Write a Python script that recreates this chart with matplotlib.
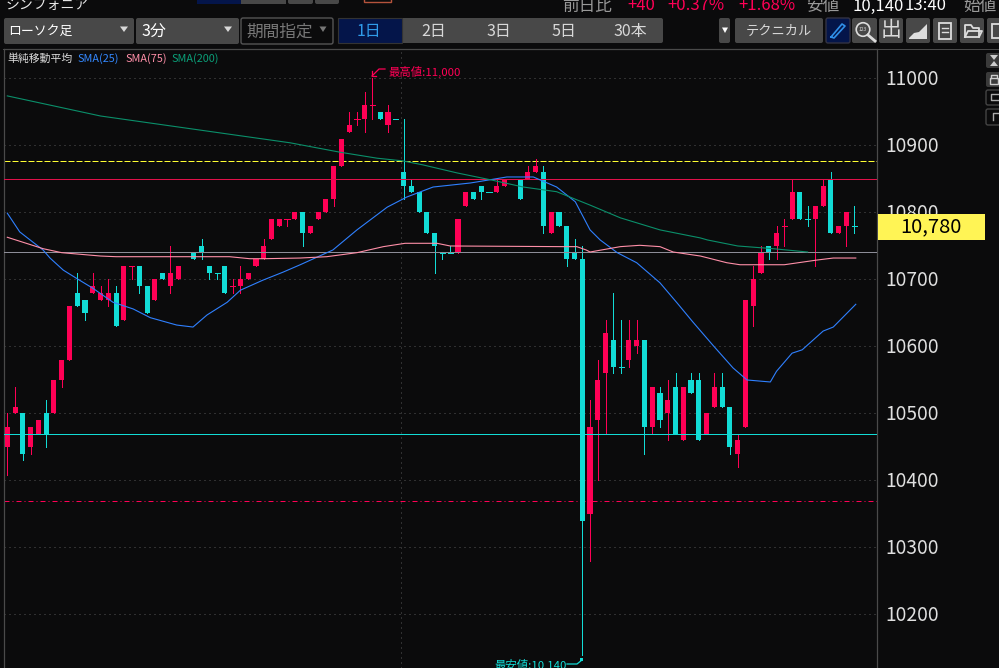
from __future__ import annotations
import matplotlib
matplotlib.use("Agg")
import matplotlib.pyplot as plt
from matplotlib.patches import FancyBboxPatch, Rectangle

plt.rcParams["font.family"] = ["Noto Sans CJK JP", "DejaVu Sans"]

UP = "#ff0055"
DOWN = "#12dcd6"
BG = "#0b0b0c"
GRID = "#565656"

# bars: index, open, close, high, low (up bars red, down bars cyan)
bar_idx = [0, 1, 2, 3, 4, 5, 6, 7, 8, 9, 10, 11, 12, 13, 14, 15, 16, 17, 18, 19, 20, 21, 22,
           24, 25, 26, 27, 28, 29, 30, 31, 32, 33, 34, 35, 36, 37, 38, 39, 40, 41, 42, 43, 44,
           45, 46, 47, 48, 49, 50, 51, 52, 53, 54, 55, 56, 57, 58, 59, 60, 61, 62, 63, 64,
           66, 67, 68, 69, 70, 71, 72, 73, 74, 75, 76, 77, 78, 79, 80, 81, 82, 83, 84, 85,
           86, 87, 88, 89, 90, 91, 92, 93, 94, 95, 96, 97, 98, 99, 100, 101, 102, 103, 104,
           105, 106, 107, 108, 109]
opens = [10450, 10500, 10500, 10450, 10470, 10500, 10500, 10550, 10580, 10680, 10670, 10680,
         10670, 10670, 10680, 10640, 10720, 10720, 10690, 10670, 10710, 10690, 10700,
         10740, 10750, 10720, 10710, 10720, 10690, 10690, 10700, 10720, 10730, 10760, 10780,
         10790, 10790, 10800, 10770, 10790, 10800, 10820, 10870, 10920,
         10940, 10940, 10960, 10950, 10930, 10940, 10860, 10840, 10830, 10800, 10770, 10740,
         10740, 10740, 10810, 10830, 10840, 10830, 10830, 10840,
         10850, 10850, 10860, 10860, 10770, 10800, 10780, 10740, 10730, 10350, 10490, 10560,
         10610, 10570, 10580, 10600, 10610, 10480, 10530, 10500,
         10540, 10460, 10550, 10550, 10470, 10510, 10540, 10510, 10440, 10480, 10660, 10710,
         10750, 10750, 10780, 10790, 10830, 10790, 10790,
         10810, 10850, 10770, 10780, 10780]
closes = [10480, 10510, 10440, 10480, 10490, 10470, 10550, 10580, 10660, 10660, 10650, 10690,
          10680, 10680, 10630, 10720, 10720, 10690, 10650, 10700, 10700, 10710, 10720,
          10730, 10740, 10710, 10710, 10680, 10690, 10700, 10710, 10730, 10750, 10790, 10790,
          10790, 10800, 10770, 10780, 10800, 10820, 10870, 10910, 10930,
          10940, 10960, 10960, 10940, 10950, 10940, 10840, 10830, 10800, 10770, 10750, 10740,
          10740, 10790, 10830, 10820, 10830, 10830, 10840, 10850,
          10820, 10860, 10870, 10780, 10800, 10780, 10730, 10730, 10340, 10480, 10550, 10620,
          10570, 10570, 10610, 10610, 10480, 10540, 10490, 10520,
          10470, 10540, 10530, 10460, 10500, 10540, 10510, 10450, 10460, 10670, 10700, 10740,
          10740, 10770, 10780, 10830, 10790, 10790, 10810,
          10840, 10770, 10780, 10800, 10780]
highs = [10500, 10540, 10500, 10480, 10490, 10520, 10550, 10580, 10660, 10710, 10670, 10710,
         10690, 10700, 10690, 10720, 10720, 10720, 10690, 10700, 10710, 10750, 10720,
         10740, 10760, 10720, 10710, 10720, 10700, 10720, 10710, 10730, 10760, 10790, 10790,
         10790, 10800, 10800, 10780, 10800, 10820, 10870, 10910, 10950,
         10950, 10980, 11000, 10950, 10960, 10940, 10940, 10850, 10830, 10800, 10770, 10740,
         10750, 10790, 10830, 10830, 10840, 10830, 10850, 10850,
         10850, 10870, 10880, 10870, 10800, 10800, 10780, 10760, 10750, 10520, 10580, 10640,
         10680, 10640, 10640, 10640, 10610, 10540, 10540, 10550,
         10560, 10540, 10560, 10560, 10500, 10560, 10560, 10510, 10470, 10670, 10720, 10750,
         10750, 10780, 10790, 10850, 10830, 10810, 10810,
         10850, 10860, 10780, 10800, 10810]
lows = [10408, 10500, 10430, 10440, 10470, 10450, 10500, 10540, 10580, 10660, 10640, 10680,
        10670, 10660, 10630, 10640, 10700, 10680, 10650, 10670, 10700, 10680, 10700,
        10730, 10730, 10700, 10700, 10680, 10680, 10680, 10700, 10720, 10730, 10760, 10780,
        10780, 10790, 10750, 10770, 10790, 10800, 10810, 10870, 10920,
        10930, 10920, 10940, 10940, 10920, 10940, 10820, 10830, 10800, 10770, 10710, 10730,
        10740, 10740, 10810, 10820, 10820, 10830, 10830, 10840,
        10820, 10850, 10860, 10770, 10770, 10780, 10720, 10730, 10140, 10280, 10400, 10470,
        10560, 10560, 10570, 10590, 10440, 10470, 10480, 10460,
        10470, 10460, 10530, 10460, 10470, 10510, 10510, 10440, 10420, 10480, 10630, 10710,
        10730, 10730, 10750, 10790, 10790, 10780, 10720,
        10810, 10770, 10770, 10750, 10770]
up_doji = [16, 29, 36, 45, 47, 100]

sma25_x = [0, 1.6, 4.6, 5.5, 7.2, 9, 11, 13.6, 16.2, 18.4, 21.8, 23.9, 25.7, 28.3, 30, 32.9, 35.5,
           37.7, 41.9, 45, 48.9, 51.4, 54.8, 59.6, 64.3, 67.7, 70.7, 73.1, 75, 76.3, 78.5, 81,
           84, 86.2, 88.2, 90.8, 93.4, 95.2, 98.2, 99, 101, 102.3, 105, 106.3, 109.2]
sma25_y = [10799, 10771, 10744, 10732, 10714, 10701, 10687, 10666, 10656, 10643, 10632, 10629,
           10647, 10666, 10684, 10699, 10711, 10722, 10744, 10774, 10808, 10823, 10838, 10844,
           10853, 10853, 10838, 10816, 10774, 10759, 10740, 10725, 10695, 10665, 10637, 10602,
           10568, 10550, 10547, 10563, 10590, 10595, 10623, 10629, 10663]
sma75_x = [0, 4.6, 7, 12, 14, 18.7, 28.6, 31.2, 33, 37.7, 41.1, 45, 48.4, 51.2, 55.3, 57, 71.5,
           73.3, 74.5, 75, 78.9, 81.4, 84, 85.7, 89.2, 92.6, 94.3, 100, 104.2, 106.3, 109.2]
sma75_y = [10763, 10746, 10740, 10735, 10734, 10734, 10734, 10731, 10731, 10732, 10734, 10740,
           10749, 10754, 10754, 10750, 10749, 10749, 10744, 10741, 10749, 10751, 10749, 10741,
           10735, 10725, 10722, 10722, 10729, 10732, 10732]
sma200_x = [0, 12, 24.8, 36.4, 42.8, 47.6, 50.9, 53.5, 57.9, 62.1, 66.4, 70.7, 75, 78.9, 84,
            89.2, 90.1, 94, 98.5, 103]
sma200_y = [10974, 10944, 10923, 10904, 10890, 10881, 10877, 10871, 10859, 10849, 10838, 10831,
            10811, 10792, 10774, 10762, 10759, 10750, 10746, 10741]

grid_prices = [11000, 10900, 10800, 10700, 10600, 10500, 10400, 10300, 10200]
session_line_x = 51
level_dashed = 10877
level_red = 10850
level_gray = 10741
level_cyan = 10469
level_dashdot = 10369
last_price = 10780
high_price = 11000
low_price = 10140

period_labels = ["1日", "2日", "3日", "5日", "30本"]
header_labels = ["前日比", "+40", "+0.37%", "+1.68%", "安値", "10,140", "13:40", "始値"]

fig = plt.figure(figsize=(9.99, 6.68), dpi=100, facecolor=BG)


def px_axes(left, top, right, bottom):
    a = fig.add_axes([left / 999, 1 - bottom / 668, (right - left) / 999, (bottom - top) / 668])
    return a


# page chrome in pixel coordinates
ui = px_axes(0, 0, 999, 668)
ui.set_xlim(0, 999)
ui.set_ylim(668, 0)
ui.axis("off")


def button(x0, y0, x1, y1, fc="#484848", ec="none"):
    ui.add_patch(FancyBboxPatch((x0 + 1, y0 + 1), x1 - x0 - 2, y1 - y0 - 2,
                                boxstyle="round,pad=1,rounding_size=2", fc=fc, ec=ec, lw=1))


def arrow_down(x, y, c="#d8d8d8", w=4):
    ui.fill([x - w, x + w, x], [y - 2.5, y - 2.5, y + 3], color=c, lw=0)


button(4, 18, 134, 44)
ui.text(8, 32, "ローソク足", color="white", fontsize=9.3, va="center")
arrow_down(124, 29)
button(136, 18, 239, 44)
ui.text(141, 32, "3分", color="white", fontsize=11.5, va="center")
arrow_down(228, 29)
button(241, 18, 333, 44, fc=BG, ec="#555555")
ui.text(246, 32, "期間指定", color="#777777", fontsize=12, va="center")
arrow_down(323, 29, c="#777777", w=3.5)

button(338, 18, 663, 43)
ui.add_patch(Rectangle((338, 18), 64, 25, fc="#04154a", ec="#333333", lw=0.8))
for label, cx, col in zip(period_labels, [369, 434, 499, 564, 630],
                          ["#2f9bea", "#d8d8d8", "#d8d8d8", "#d8d8d8", "#d8d8d8"]):
    ui.text(cx, 31.5, label, color=col, fontsize=11.5, ha="center", va="center")
button(719, 18, 730, 43)
arrow_down(725, 30, c="white", w=3)
button(735, 18, 823, 43)
ui.text(779, 31.5, "テクニカル", color="#d8d8d8", fontsize=9.5, ha="center", va="center")
button(826, 18, 850, 43, fc="#04154a", ec="#333344")
ui.plot([831, 834, 845, 842, 831], [37, 38, 26, 24, 37], color="#2f8fe8", lw=1.2)
button(852, 18, 877, 43)
ui.scatter([863], [29.5], s=95, fc="none", ec="#dddddd", lw=1.2)
ui.text(863, 29.5, "123", color="#dddddd", fontsize=3.5, ha="center", va="center")
ui.plot([868, 875], [35, 41], color="#dddddd", lw=2)
button(879, 18, 903, 43)
ui.text(891, 30, "出", color="#dddddd", fontsize=15, ha="center", va="center")
button(906, 18, 930, 43)
ui.fill([909, 914, 919, 927, 927, 909], [38, 33, 32, 24, 39, 39], color="#dddddd", lw=0)
button(933, 18, 957, 43)
ui.add_patch(Rectangle((939, 23), 12, 16, fc="none", ec="#dddddd", lw=1.3))
ui.plot([942, 948], [28, 28], color="#dddddd", lw=1)
ui.plot([942, 948], [32, 32], color="#dddddd", lw=1)
button(960, 18, 984, 43)
ui.plot([965, 965, 971, 973, 979, 979, 965], [37, 25, 25, 28, 28, 37, 37], color="#dddddd", lw=1.3)
ui.plot([965, 968, 982, 979], [37, 31, 31, 37], color="#dddddd", lw=1.3)
button(987, 18, 1005, 43)
ui.add_patch(Rectangle((992, 24), 8, 14, fc="none", ec="#dddddd", lw=1.3))

# clipped header row
ui.add_patch(Rectangle((197, -2), 44, 6, fc="#04154a", lw=0))
ui.add_patch(Rectangle((241, -2), 45, 6, fc="#484848", lw=0))
button(288, -4, 313, 4)
button(315, -4, 339, 4)
ui.add_patch(Rectangle((364, -3), 27, 5, fc="none", ec="#b5533c", lw=1))
ui.text(6, 5, "シンフォニア", color="#e8e8e8", fontsize=10, va="center")
for x, label, col in zip([562, 627, 667, 738, 806, 853, 905, 963], header_labels,
                         ["#999999", UP, UP, UP, "#999999", "white", "white", "#999999"]):
    ui.text(x, 6, label, color=col, fontsize=12, va="center")

# top rule of the chart pane, continues under the right strip
ui.plot([3, 999], [48.5, 48.5], color="#4a4a4a", lw=0.72)

# right hand strip
button(986, 53, 1003, 68, fc="#3a3a3a")
button(986, 72, 1003, 87, fc="#3a3a3a")
button(986, 90, 1003, 105, fc=BG, ec="#444444")
button(986, 109, 1003, 125, fc=BG, ec="#444444")
ui.fill([990, 998, 994], [55, 55, 60], color="#cccccc", lw=0)
ui.fill([990, 998, 994], [66, 66, 61], color="#cccccc", lw=0)
ui.add_patch(Rectangle((990, 78), 8, 6, fc="none", ec="#cccccc", lw=1))
ui.plot([991, 991, 997, 997], [78, 75, 75, 78], color="#cccccc", lw=1)
ui.plot([999, 991, 991, 999], [94, 94, 100, 100], color="#aaaaaa", lw=1)
ui.plot([999, 993, 993], [113, 113, 120], color="#aaaaaa", lw=1)

# price labels
for p in grid_prices:
    y = 280.5 + (10700 - p) * 0.67
    ui.text(885, y, str(p), color="#e0e0e0", fontsize=13.8, va="center")

ax = px_axes(4, 49, 877, 668)
ax.set_facecolor(BG)
ax.set_xlim(-0.425, 111.93)
ax.set_ylim(10120.1, 11044.0)
ax.set_xticks([])
ax.set_yticks([])
for name, sp in ax.spines.items():
    sp.set_color("#4a4a4a")
    sp.set_linewidth(0.9)
ax.spines["bottom"].set_visible(False)

for p in grid_prices:
    ax.axhline(p, color=GRID, lw=0.72, ls=(0, (1, 4)), zorder=1)
ax.axvline(session_line_x - 0.3, color=GRID, lw=0.72, ls=(0, (1, 4)), zorder=1)

ax.axhline(level_dashed, color="#ffff33", lw=0.72, ls=(0, (6, 2)), zorder=2)
ax.axhline(level_dashdot, color="#ff0055", lw=0.72, ls=(0, (5, 3, 1, 3)), zorder=2)

for i, o, c, h, l in zip(bar_idx, opens, closes, highs, lows):
    col = UP if c > o or (c == o and i in up_doji) else DOWN
    ax.vlines(i, l, h, color=col, lw=0.72, zorder=3, antialiased=False)
    if o == c:
        ax.hlines(o, i - 0.33, i + 0.33, color=col, lw=0.72, zorder=3, antialiased=False)
    else:
        ax.bar(i, abs(c - o), bottom=min(o, c), width=0.66, color=col, lw=0, zorder=3)

ax.axhline(level_red, color="#e0104a", lw=0.72, zorder=4, antialiased=False)
ax.axhline(level_gray, color="#8d8d98", lw=0.72, zorder=4, antialiased=False)
ax.axhline(level_cyan, color="#12dcd6", lw=0.72, zorder=4, antialiased=False)

ax.plot(sma25_x, sma25_y, color="#2f80ff", lw=0.8, zorder=5)
ax.plot(sma75_x, sma75_y, color="#ff8fa8", lw=0.8, zorder=5)
ax.plot(sma200_x, sma200_y, color="#0a8f6a", lw=0.8, zorder=5)

# legend row
ui2 = px_axes(0, 0, 999, 668)
ui2.set_xlim(0, 999)
ui2.set_ylim(668, 0)
ui2.axis("off")
for x, label, col in [(7, "単純移動平均", "#dddddd"), (77, "SMA(25)", "#3388ff"),
                      (125, "SMA(75)", "#ff8fa8"), (171, "SMA(200)", "#0a9f78")]:
    ui2.text(x, 59, label, color=col, fontsize=7.8, va="center")

# high / low callouts
ui2.plot([385, 379, 372], [69, 69, 76], color=UP, lw=0.9)
ui2.plot([372, 372, 376], [71, 76, 76], color=UP, lw=0.9)
ui2.text(388, 72, f"最高値:{high_price:,}", color=UP, fontsize=8.2, va="center")
ui2.plot([567, 577, 582], [664, 664, 660], color=DOWN, lw=0.9)
ui2.add_patch(Rectangle((580, 658), 3, 3, fc=DOWN, lw=0))
ui2.text(494, 665, f"最安値:{low_price:,}", color=DOWN, fontsize=8.2, va="center")

# last price tag
ui2.add_patch(Rectangle((878, 214), 107, 26, fc="#fff455", lw=0))
ui2.text(931, 227, f"{last_price:,}", color="black", fontsize=14.5, ha="center", va="center")

fig.savefig("out.png", dpi=100, facecolor=BG)
